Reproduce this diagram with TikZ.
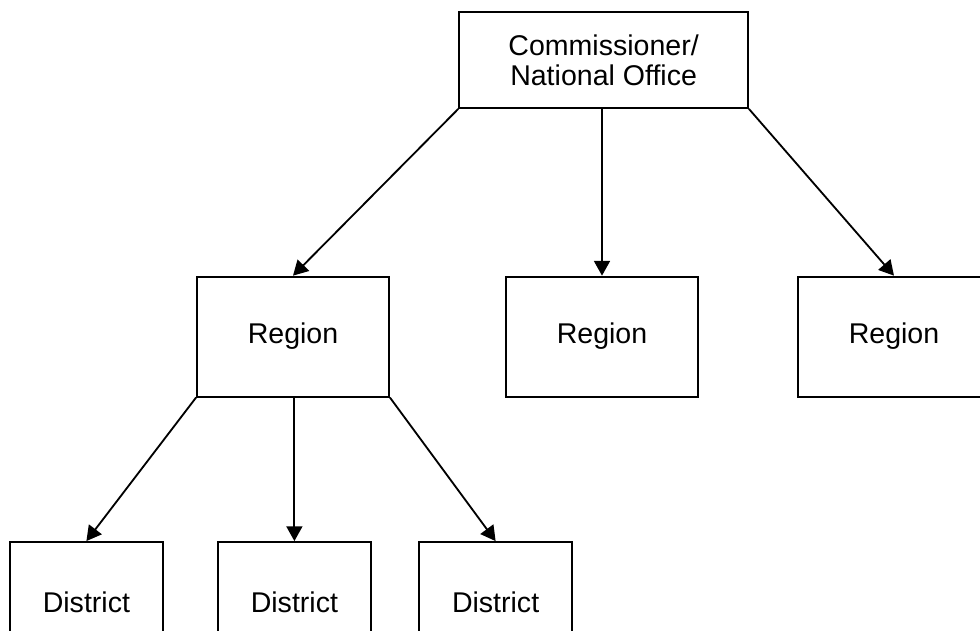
\documentclass[tikz,border=0pt]{standalone}
\usepackage{fontspec}
\setmainfont{Liberation Sans}
\usetikzlibrary{arrows.meta}

\begin{document}
\begin{tikzpicture}[
		box/.style = {draw, line width = 1.3pt, minimum width = 4.8cm, minimum height = 3cm, inner sep = 0pt, font = \fontsize{20.3}{21.3}\selectfont},
		link/.style = {line width = 1.3pt, -{Triangle[length = 3.7mm, width = 4mm]}}
	]
		\clip (0, 0) rectangle (24.5, 15.775);
		\node[box, minimum width = 7.22cm, minimum height = 2.39cm, align = center] (office) at (15.09, 14.27) {Commissioner/\\National Office};
		\node[box] (regA) at (7.325, 7.36) {Region};
		\node[box] (regB) at (15.05, 7.36) {Region};
		\node[box] (regC) at (22.35, 7.36) {Region};
		\node[box, minimum width = 3.825cm] (distA) at (2.16, 0.725) {District};
		\node[box, minimum width = 3.825cm] (distB) at (7.36, 0.725) {District};
		\node[box, minimum width = 3.825cm] (distC) at (12.39, 0.725) {District};
		\draw[link] (office.south west) -- (regA.north);
		\draw[link] (regB.north |- office.south) -- (regB.north);
		\draw[link] (office.south east) -- (regC.north);
		\draw[link] (regA.south west) -- (distA.north);
		\draw[link] (distB.north |- regA.south) -- (distB.north);
		\draw[link] (regA.south east) -- (distC.north);
	\end{tikzpicture}
\end{document}
